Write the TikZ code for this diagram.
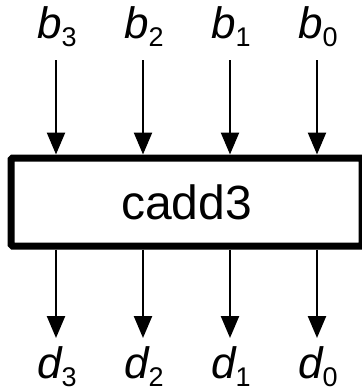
\documentclass[tikz,border=0pt]{standalone}
\usepackage{fontspec}
\setmainfont{Liberation Sans}
\usetikzlibrary{arrows.meta}

% variable name with a lowered numeric index
\newcommand{\sigvar}[2]{{\fontsize{44}{48}\selectfont\itshape #1}\raisebox{-8pt}{\fontsize{27}{30}\selectfont #2}}

\begin{document}
\begin{tikzpicture}[x=1pt,y=1pt,
  blockbox/.style={draw, line width=7pt, rectangle, rounded corners=1.5pt,
    minimum width=351pt, minimum height=88pt, inner sep=0pt,
    font=\fontsize{48}{52}\selectfont},
  sig/.style={line width=2.4pt, -{Triangle[length=22pt,width=18pt]}},
  varlabel/.style={anchor=base, inner sep=0pt}]
\useasboundingbox (0,0) rectangle (362,-392);

% the block
\node[blockbox] (box) at (186.5,-202) {cadd3};

% input labels and arrows
\foreach \i/\x in {3/56, 2/143, 1/230, 0/317} {
  \node[varlabel] (b\i) at (\x+1,-38) {\sigvar{b}{\i}};
  \coordinate (bs\i) at (\x,-60);
  \draw[sig] (bs\i) -- (bs\i |- box.north);
}

% output arrows and labels
\foreach \i/\x in {3/56, 2/143, 1/230, 0/317} {
  \coordinate (de\i) at (\x,-338);
  \node[varlabel] (d\i) at (\x+1,-378) {\sigvar{d}{\i}};
  \draw[sig] (de\i |- box.south) -- (de\i);
}
\end{tikzpicture}
\end{document}
